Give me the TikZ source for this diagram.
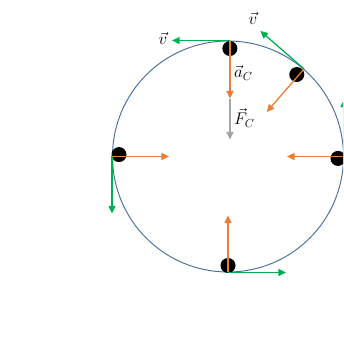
\documentclass[tikz,border=0pt]{standalone}
\usepackage{amsmath}
\usetikzlibrary{arrows.meta,calc}
\definecolor{orbitc}{RGB}{68,110,160}
\definecolor{accc}{RGB}{237,125,49}
\definecolor{velc}{RGB}{0,176,80}
\definecolor{forcec}{RGB}{165,165,165}

\begin{document}
\begin{tikzpicture}[
      x=0.03cm, y=0.03cm,
      orbit/.style={draw=orbitc, line width=0.8pt, circle, inner sep=0pt,
        minimum size=6.93cm},
      ball/.style={circle, fill=black, inner sep=0pt, minimum size=0.45cm},
      vec/.style={-{Triangle[length=6.5pt, width=6pt]}, line width=1.1pt},
      acc/.style={vec, accc},
      vel/.style={vec, velc},
      frc/.style={vec, forcec},
      lbl/.style={font=\Large, inner sep=0pt}
    ]
      \useasboundingbox (0,0) rectangle (343,345);
      \clip (0,0) rectangle (343,345);

      % path of the body
      \coordinate (c) at (228,188.5);
      \node[orbit] (o) at (c) {};

      % the body at five places
      \node[ball] (btop) at ($(c)+(89:108)$) {};
      \node[ball] (bur) at ($(c)+(50:107)$) {};
      \node[ball] (blft) at ($(c)+(179:109)$) {};
      \node[ball] (brgt) at ($(c)+(359:110)$) {};
      \node[ball] (bbot) at ($(c)+(270:109)$) {};

      % tips of the vectors
      \coordinate (atop) at ($(o.89)+(0,-58)$);
      \coordinate (ftop) at ($(o.89)+(0,-99)$);
      \coordinate (vtop) at ($(o.89)+(-58,0)$);
      \coordinate (aur) at ($(o.49)+(229:57)$);
      \coordinate (vur) at ($(o.49)+(139:58)$);
      \coordinate (alft) at ($(o.west)+(57,0)$);
      \coordinate (vlft) at ($(o.west)+(0,-57)$);
      \coordinate (argt) at ($(o.east)+(-57,0)$);
      \coordinate (vrgt) at ($(o.east)+(0,57)$);
      \coordinate (abot) at ($(o.south)+(0,57)$);
      \coordinate (vbot) at ($(o.south)+(58,0)$);

      % acceleration and force
      \draw[frc] (atop) -- (ftop);
      \draw[acc] (o.89) -- (atop);
      \draw[acc] (o.49) -- (aur);
      \draw[acc] (o.west) -- (alft);
      \draw[acc] (o.east) -- (argt);
      \draw[acc] (o.south) -- (abot);

      % velocity
      \draw[vel] (o.89) -- (vtop);
      \draw[vel] (o.49) -- (vur);
      \draw[vel] (o.west) -- (vlft);
      \draw[vel] (o.east) -- (vrgt);
      \draw[vel] (o.south) -- (vbot);

      % labels
      \node[lbl] (lvtop) at (163,307) {$\vec{v}$};
      \node[lbl] (lvur) at (253,327) {$\vec{v}$};
      \node[lbl, anchor=west] (lac) at (234,272) {$\vec{a}_C$};
      \node[lbl, anchor=west] (lfc) at (234,227) {$\vec{F}_C$};
    \end{tikzpicture}
\end{document}
